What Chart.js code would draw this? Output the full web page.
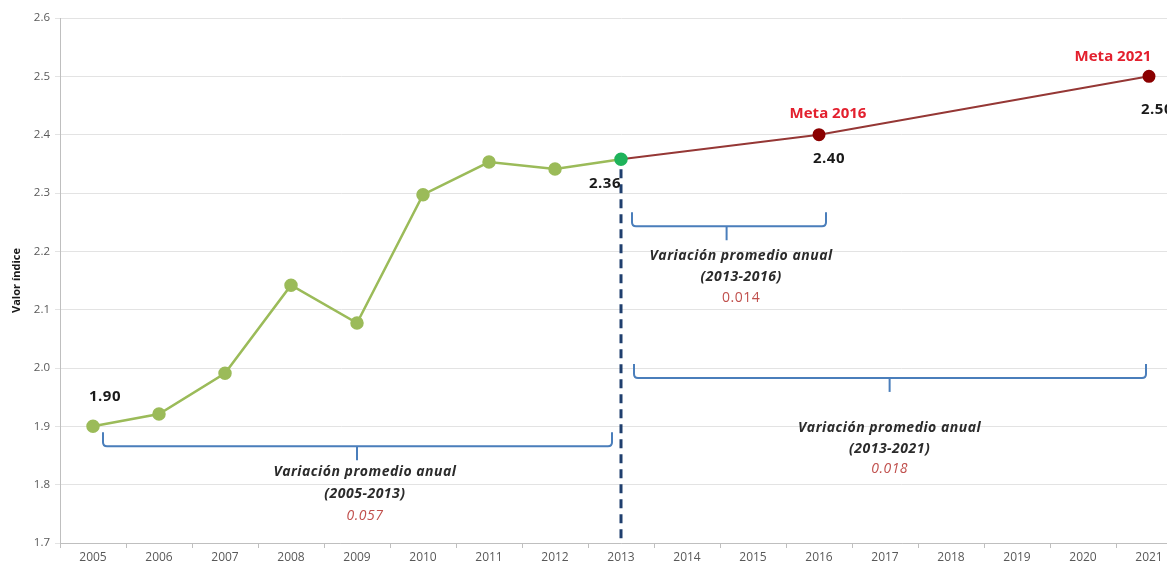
<!DOCTYPE html>
<html>
<head>
<meta charset="utf-8">
<script src="https://cdn.jsdelivr.net/npm/chart.js@4.4.1/dist/chart.umd.min.js"></script>
<style>
  html, body { margin: 0; padding: 0; background: #fff; overflow: hidden; }
  #wrap { position: relative; width: 1190px; height: 569px; }
</style>
</head>
<body>
<div id="wrap"><canvas id="c"></canvas></div>
<script>
const years = ['2005','2006','2007','2008','2009','2010','2011','2012','2013','2014','2015','2016','2017','2018','2019','2020','2021'];
const historico = [1.90, 1.921, 1.991, 2.142, 2.077, 2.297, 2.353, 2.341, 2.358, null, null, null, null, null, null, null, null];
const metas = [null, null, null, null, null, null, null, null, 2.358, null, null, 2.40, null, null, null, null, 2.50];
const yTicks = [1.7, 1.8, 1.9, 2.0, 2.1, 2.2, 2.3, 2.4, 2.5, 2.6];
const valueLabelIdx = [0, 8, 11, 16];
const metaLabels = [{ idx: 11, text: 'Meta 2016' }, { idx: 16, text: 'Meta 2021' }];
const variaciones = [
  { from: 0, to: 8, periodo: '(2005-2013)', valor: '0.057' },
  { from: 8, to: 11, periodo: '(2013-2016)', valor: '0.014' },
  { from: 8, to: 16, periodo: '(2013-2021)', valor: '0.018' }
];

const FONT = '"Open Sans", Lato, sans-serif';

const annot = {
  id: 'annot',
  afterDatasetsDraw(chart) {
    const ctx = chart.ctx;
    const xs = chart.scales.x, ys = chart.scales.y;
    const X = i => xs.getPixelForValue(i);
    const Y = v => ys.getPixelForValue(v);
    ctx.save();

    // dashed vertical line at 2013
    ctx.strokeStyle = '#1f3f6e';
    ctx.lineWidth = 3;
    ctx.setLineDash([9, 6]);
    ctx.beginPath();
    ctx.moveTo(X(8), Y(historico[8]) + 10);
    ctx.lineTo(X(8), ys.bottom);
    ctx.stroke();
    ctx.setLineDash([]);

    // braces
    const braceCfg = [
      { x1: X(variaciones[0].from) + 10, x2: X(variaciones[0].to) - 9, top: Y(1.890), tick: X(4.0), text: X(4.12), textY: [472, 494, 516] },
      { x1: X(variaciones[1].from) + 11, x2: X(variaciones[1].to) + 7, top: Y(2.267), tick: X(9.6), text: X(9.82), textY: [256, 277, 298] },
      { x1: X(variaciones[2].from) + 13, x2: X(variaciones[2].to) - 3, top: Y(2.007), tick: X(12.07), text: X(12.07), textY: [428, 449, 469] }
    ];
    if ('letterSpacing' in ctx) ctx.letterSpacing = '0.5px';
    braceCfg.forEach((b, k) => {
      const d = 14, r = 4;
      const mid = b.tick;
      const ly = b.top + d;
      ctx.strokeStyle = '#4a7ebb';
      ctx.lineWidth = 2;
      ctx.beginPath();
      ctx.moveTo(b.x1, b.top);
      ctx.lineTo(b.x1, ly - r);
      ctx.quadraticCurveTo(b.x1, ly, b.x1 + r, ly);
      ctx.lineTo(b.x2 - r, ly);
      ctx.quadraticCurveTo(b.x2, ly, b.x2, ly - r);
      ctx.lineTo(b.x2, b.top);
      ctx.stroke();
      ctx.beginPath();
      ctx.moveTo(mid, ly);
      ctx.lineTo(mid, ly + d);
      ctx.stroke();

      const v = variaciones[k];
      ctx.textAlign = 'center';
      ctx.textBaseline = 'middle';
      ctx.fillStyle = '#2b2b2b';
      ctx.font = 'italic bold 14px ' + FONT;
      ctx.fillText('Variación promedio anual', b.text, b.textY[0]);
      ctx.fillText(v.periodo, b.text, b.textY[1]);
      ctx.fillStyle = '#c0504d';
      ctx.font = (k === 1 ? '' : 'italic ') + '14px ' + FONT;
      ctx.fillText(v.valor, b.text, b.textY[2]);
    });

    // value labels
    ctx.font = 'bold 15px ' + FONT;
    ctx.fillStyle = '#1a1a1a';
    ctx.textAlign = 'center';
    ctx.textBaseline = 'middle';
    const offs = { 0: [12, -30], 8: [-16, 25], 11: [10, 24], 16: [8, 33] };
    valueLabelIdx.forEach(i => {
      const v = i === 16 || i === 11 ? metas[i] : historico[i];
      const o = offs[i];
      ctx.fillText(v.toFixed(2), X(i) + o[0], Y(v) + o[1]);
    });

    // meta labels
    if ('letterSpacing' in ctx) ctx.letterSpacing = '0px';
    ctx.font = 'bold 15px ' + FONT;
    ctx.fillStyle = '#e3202e';
    const moff = { 11: [9, -21], 16: [-36, -20] };
    metaLabels.forEach(m => {
      const o = moff[m.idx];
      ctx.fillText(m.text, X(m.idx) + o[0], Y(metas[m.idx]) + o[1]);
    });
    ctx.restore();
  }
};

const greenPtColors = historico.map((v, i) => i === 8 ? '#1fb35b' : '#9bbb59');
const metaRadius = metas.map((v, i) => (i === 8 || v === null) ? 0 : 5.5);

new Chart(document.getElementById('c'), {
  type: 'line',
  data: {
    labels: years,
    datasets: [
      {
        label: 'Histórico',
        data: historico,
        borderColor: '#9bbb59',
        backgroundColor: greenPtColors,
        pointBackgroundColor: greenPtColors,
        pointBorderColor: greenPtColors,
        pointRadius: 5.5,
        borderWidth: 2.5,
        tension: 0
      },
      {
        label: 'Metas',
        data: metas,
        spanGaps: true,
        borderColor: '#953735',
        backgroundColor: '#8b0000',
        pointBackgroundColor: '#8b0000',
        pointBorderColor: '#8b0000',
        pointRadius: metaRadius,
        borderWidth: 2,
        tension: 0
      }
    ]
  },
  options: {
    responsive: true,
    maintainAspectRatio: false,
    animation: false,
    layout: { padding: { top: 18, right: 1, left: 4, bottom: 0 } },
    plugins: { legend: { display: false }, tooltip: { enabled: false } },
    scales: {
      x: {
        offset: true,
        afterFit: s => { s.height = 26; },
        grid: { display: true, drawOnChartArea: false, offset: true, tickLength: 5, color: '#bfbfbf' },
        border: { color: '#bfbfbf' },
        ticks: { color: '#595959', font: { family: FONT, size: 12 }, padding: 2, maxRotation: 0, autoSkip: false }
      },
      y: {
        min: 1.7, max: 2.6,
        afterFit: s => { s.width = 56; },
        afterBuildTicks: s => { s.ticks = yTicks.map(v => ({ value: v })); },
        grid: { color: '#e3e3e3', tickLength: 5 },
        border: { color: '#bfbfbf' },
        ticks: { color: '#595959', font: { family: FONT, size: 11.5 }, padding: 5, callback: v => Number(v).toFixed(1) },
        title: { display: true, text: 'Valor índice', color: '#1a1a1a', font: { family: FONT, size: 11, weight: 'bold' }, padding: { top: 6, bottom: 0 } }
      }
    }
  },
  plugins: [annot]
});
</script>
</body>
</html>
